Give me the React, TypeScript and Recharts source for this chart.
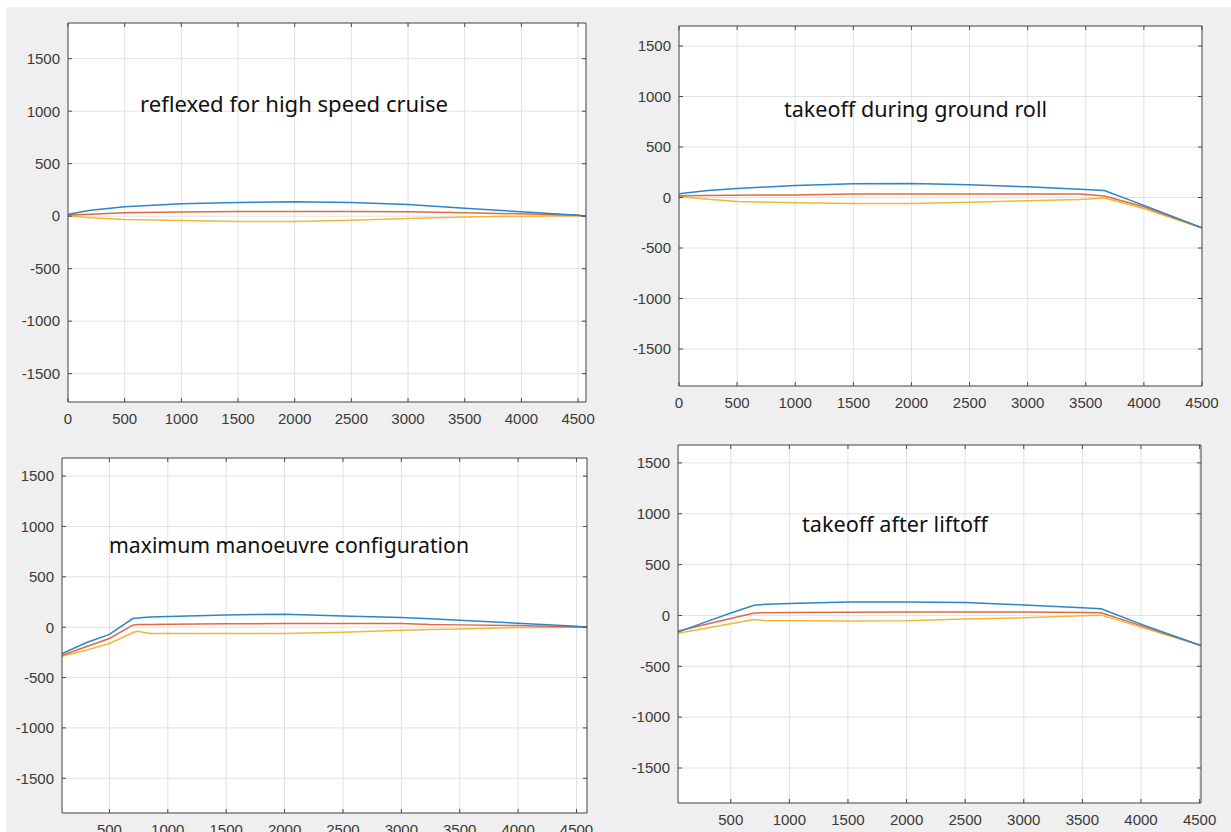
import React from 'react';
import { LineChart, Line, XAxis, YAxis, CartesianGrid } from 'recharts';

const yTicks = [-1500, -1000, -500, 0, 500, 1000, 1500];
const xTicksFrom0 = [0, 500, 1000, 1500, 2000, 2500, 3000, 3500, 4000, 4500];
const xTicksFrom500 = [500, 1000, 1500, 2000, 2500, 3000, 3500, 4000, 4500];

// reflexed for high speed cruise
const cruiseX = [0, 200, 500, 1000, 1500, 2000, 2500, 3000, 3500, 4000, 4500, 4570];
const cruiseUpper = [18, 57, 89, 118, 130, 138, 130, 111, 75, 42, 8, 0];
const cruiseCamber = [12, 18, 32, 40, 45, 45, 45, 42, 32, 22, 8, 0];
const cruiseLower = [5, -15, -31, -42, -50, -50, -38, -22, -8, 0, 4, 0];

// takeoff during ground roll
const rollX = [0, 250, 500, 1000, 1500, 2000, 2500, 3000, 3450, 3660, 4000, 4500];
const rollUpper = [36, 70, 89, 119, 136, 139, 126, 106, 82, 70, -78, -301];
const rollCamber = [17, 20, 22, 26, 36, 36, 36, 36, 34, 15, -92, -301];
const rollLower = [10, -17, -40, -53, -60, -60, -46, -33, -20, -5, -108, -301];

// maximum manoeuvre configuration
const manX = [94, 300, 500, 700, 740, 850, 1000, 1500, 2000, 2500, 3000, 3250, 3500, 4000, 4500, 4590];
const manUpper = [-261, -155, -72, 86, 92, 100, 106, 122, 129, 112, 96, 85, 69, 40, 10, 0];
const manCamber = [-278, -195, -112, 20, 27, 27, 28, 33, 36, 36, 36, 26, 23, 16, 3, 0];
const manLower = [-288, -228, -162, -55, -40, -63, -63, -62, -62, -50, -30, -22, -17, -3, 0, 0];

// takeoff after liftoff
const liftX = [50, 300, 500, 700, 800, 1000, 1500, 2000, 2500, 3000, 3500, 3660, 4000, 4512];
const liftUpper = [-162, -58, 24, 100, 110, 118, 133, 133, 127, 104, 75, 65, -85, -296];
const liftCamber = [-153, -84, -30, 25, 27, 29, 31, 33, 33, 33, 29, 26, -100, -296];
const liftLower = [-175, -123, -82, -40, -52, -52, -55, -52, -36, -23, -3, 3, -115, -296];

const BLUE = '#2a86cc';
const RED = '#e2693f';
const YELLOW = '#f0b73a';

const panels = [
  {
    title: 'reflexed for high speed cruise',
    x: cruiseX, upper: cruiseUpper, camber: cruiseCamber, lower: cruiseLower,
    xDomain: [0, 4570], yDomain: [-1770, 1840], xTicks: xTicksFrom0,
    box: { left: 68, top: 23, right: 586, bottom: 402 },
    titlePos: { x: 140, y: 112, w: 308 },
  },
  {
    title: 'takeoff during ground roll',
    x: rollX, upper: rollUpper, camber: rollCamber, lower: rollLower,
    xDomain: [0, 4500], yDomain: [-1866, 1698], xTicks: xTicksFrom0,
    box: { left: 679, top: 26, right: 1202, bottom: 386 },
    titlePos: { x: 784, y: 117, w: 263 },
  },
  {
    title: 'maximum manoeuvre configuration',
    x: manX, upper: manUpper, camber: manCamber, lower: manLower,
    xDomain: [94, 4590], yDomain: [-1845, 1680], xTicks: xTicksFrom500,
    box: { left: 62, top: 458, right: 587, bottom: 813 },
    titlePos: { x: 109, y: 553, w: 360 },
  },
  {
    title: 'takeoff after liftoff',
    x: liftX, upper: liftUpper, camber: liftCamber, lower: liftLower,
    xDomain: [50, 4512], yDomain: [-1844, 1676], xTicks: xTicksFrom500,
    box: { left: 678, top: 445, right: 1201, bottom: 803 },
    titlePos: { x: 802, y: 532, w: 186 },
  },
];

const tickStyle = { fontFamily: 'Liberation Sans, Arial, sans-serif', fontSize: 15, fill: '#3a3a3a' };
const axisStroke = '#4a4a4a';

function Panel({ p }: { p: any }) {
  const data = p.x.map((v: number, i: number) => ({
    x: v,
    upper: p.upper[i],
    camber: p.camber[i],
    lower: p.lower[i],
  }));
  const left = p.box.left - 60;
  const top = p.box.top - 10;
  const width = p.box.right - left + 25;
  const height = p.box.bottom - top + 30;

  return (
    <div style={{ position: 'absolute', left, top }}>
      <LineChart width={width} height={height} data={data} margin={{ top: 10, right: 25, left: 0, bottom: 0 }}>
        <CartesianGrid stroke="#e2e2e2" fill="#ffffff" />
        <XAxis
          dataKey="x" type="number" domain={p.xDomain} ticks={p.xTicks} allowDataOverflow
          height={30} tickSize={-4} tickMargin={15} tick={tickStyle}
          stroke={axisStroke} interval={0}
        />
        <XAxis
          xAxisId="top" orientation="top" mirror dataKey="x" type="number" domain={p.xDomain} ticks={p.xTicks}
          allowDataOverflow height={20} tickSize={4} tickFormatter={() => ''} stroke={axisStroke} interval={0}
        />
        <YAxis
          type="number" domain={p.yDomain} ticks={yTicks} allowDataOverflow
          width={60} tickSize={-4} tickMargin={12} tick={tickStyle} stroke={axisStroke} interval={0}
        />
        <YAxis
          yAxisId="right" orientation="right" mirror type="number" domain={p.yDomain} ticks={yTicks}
          allowDataOverflow width={20} tickSize={4} tickFormatter={() => ''} stroke={axisStroke} interval={0}
        />
        <Line dataKey="lower" stroke={YELLOW} strokeWidth={1.5} dot={false} isAnimationActive={false} />
        <Line dataKey="camber" stroke={RED} strokeWidth={1.5} dot={false} isAnimationActive={false} />
        <Line dataKey="upper" stroke={BLUE} strokeWidth={1.5} dot={false} isAnimationActive={false} />
      </LineChart>
    </div>
  );
}

export default function App() {
  return (
    <div style={{ position: 'absolute', left: 0, top: 0, width: 1231, height: 832, background: '#ffffff', overflow: 'hidden' }}>
      <div style={{ position: 'absolute', left: 6, top: 7, width: 1225, height: 825, background: '#efefef' }} />
      {panels.map((p, i) => (
        <Panel key={i} p={p} />
      ))}
      <svg width={1231} height={832} style={{ position: 'absolute', left: 0, top: 0, pointerEvents: 'none' }}>
        {panels.map((p, i) => (
          <text
            key={i}
            x={p.titlePos.x}
            y={p.titlePos.y}
            textLength={p.titlePos.w}
            lengthAdjust="spacingAndGlyphs"
            fontFamily="Noto Sans, sans-serif"
            fontSize={22}
            fill="#111"
          >
            {p.title}
          </text>
        ))}
      </svg>
    </div>
  );
}
